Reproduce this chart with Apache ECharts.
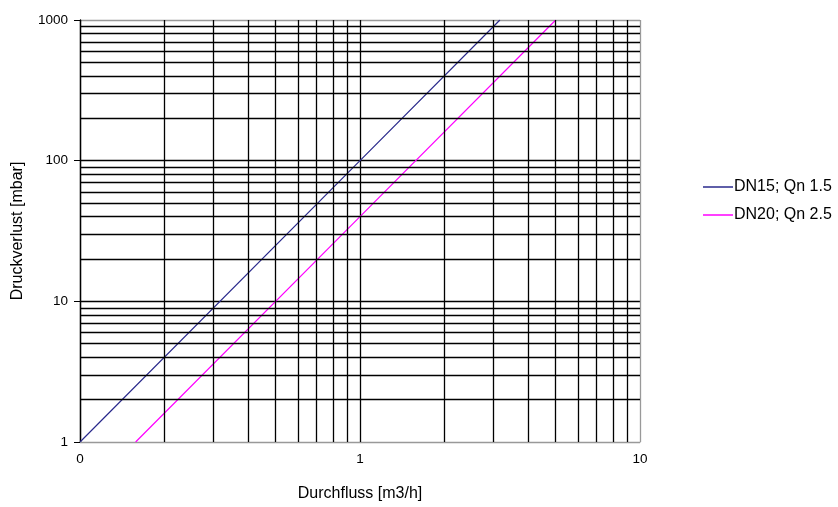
<!DOCTYPE html>
<html>
<head>
<meta charset="utf-8">
<script src="https://cdn.jsdelivr.net/npm/echarts@6/dist/echarts.min.js"></script>
<style>html,body{margin:0;padding:0;background:#fff}#c{width:838px;height:507px}</style>
</head>
<body>
<div id="c"></div>
<script>
const seriesNames = ['DN15; Qn 1.5', 'DN20; Qn 2.5'];
const dn15 = [[0.1, 1], [1, 100], [3.16, 1000]];
const dn20 = [[0.158, 1], [1, 40], [5, 1000]];
const minorX = [0.2,0.3,0.4,0.5,0.6,0.7,0.8,0.9,2,3,4,5,6,7,8,9];
const minorY = [2,3,4,5,6,7,8,9,20,30,40,50,60,70,80,90,200,300,400,500,600,700,800,900];

const chart = echarts.init(document.getElementById('c'), null, {renderer: 'canvas'});
const font = 'Liberation Sans, Arial, sans-serif';
chart.setOption({
  animation: false,
  textStyle: {fontFamily: font},
  grid: {left: 80, right: 198, top: 20, bottom: 65},
  legend: {
    orient: 'vertical', left: 703, top: 179, padding: 0,
    icon: 'rect', itemWidth: 30, itemHeight: 1.5, itemGap: 12,
    data: seriesNames,
    textStyle: {fontSize: 16, color: '#000', fontFamily: font, padding: [0, 0, 0, -4]}
  },
  xAxis: {
    type: 'log', logBase: 10, min: 0.1, max: 10,
    name: 'Durchfluss [m3/h]', nameLocation: 'middle', nameGap: 44,
    nameTextStyle: {fontSize: 16, color: '#000', fontFamily: font},
    axisLine: {show: true, lineStyle: {color: '#999', width: 1}},
    axisTick: {show: false},
    axisLabel: {fontSize: 13.5, color: '#000', margin: 10, fontFamily: font,
      formatter: v => Math.abs(v - 0.1) < 1e-9 ? '0' : String(Math.round(v))},
    splitLine: {show: true, lineStyle: {color: ['#000', '#000', '#999'], width: 1.3}}
  },
  yAxis: {
    type: 'log', logBase: 10, min: 1, max: 1000,
    name: 'Druckverlust [mbar]', nameLocation: 'middle', nameGap: 54,
    nameTextStyle: {fontSize: 16, color: '#000', fontFamily: font},
    axisLine: {show: true, lineStyle: {color: '#000', width: 1.3}},
    axisTick: {show: true, inside: false, length: 6, lineStyle: {color: '#000'}},
    axisLabel: {fontSize: 13.5, color: '#000', margin: 12, fontFamily: font,
      formatter: v => String(Math.round(v))},
    splitLine: {show: true, lineStyle: {color: ['#999', '#000', '#000', '#999'], width: 1.3}}
  },
  series: [
    {
      name: 'grid', type: 'line', data: [], silent: true,
      markLine: {
        silent: true, symbol: 'none', animation: false,
        label: {show: false},
        lineStyle: {color: '#000', width: 1.3, type: 'solid'},
        emphasis: {disabled: true},
        data: minorX.map(v => ({xAxis: v})).concat(minorY.map(v => ({yAxis: v})))
      }
    },
    {
      name: seriesNames[0], type: 'line', data: dn15, symbol: 'none',
      lineStyle: {color: '#2a2a8c', width: 1.2}, itemStyle: {color: '#2a2a8c'}
    },
    {
      name: seriesNames[1], type: 'line', data: dn20, symbol: 'none',
      lineStyle: {color: '#ff00ff', width: 1.2}, itemStyle: {color: '#ff00ff'}
    }
  ]
});
</script>
</body>
</html>
